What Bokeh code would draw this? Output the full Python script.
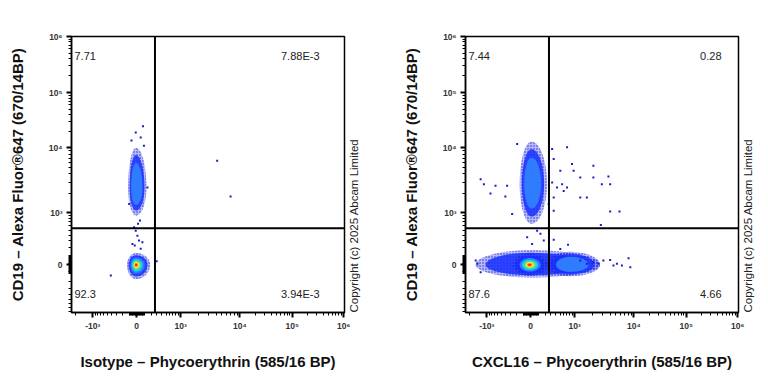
import numpy as np
from bokeh.plotting import figure
from bokeh.models import Range1d, FixedTicker, Label, Span, LinearAxis
from bokeh.layouts import row
from bokeh.embed import file_html
from bokeh.resources import INLINE

# ---------------- data ----------------
x_titles = ["Isotype – Phycoerythrin (585/16 BP)", "CXCL16 – Phycoerythrin (585/16 BP)"]
y_title = "CD19 – Alexa Fluor®647 (670/14BP)"
copyright_text = "Copyright (c) 2025 Abcam Limited"

gate_x = 265.0
gate_y = 540.0

# quadrant percentages: upper-left, upper-right, lower-left, lower-right
quad_p1 = ["7.71", "7.88E-3", "92.3", "3.94E-3"]
quad_p2 = ["7.44", "0.28", "87.6", "4.66"]

tick_values = [-1e3, 0.0, 1e3, 1e4, 1e5, 1e6]
tick_labels = ["-10³", "0", "10³", "10⁴", "10⁵", "10⁶"]

# populations (values in fluorescence units): centre, extent, peak density level
p1_cx = [-10, -10]
p1_cy = [0, 2480]
p1_xlo = [-130, -115]
p1_xhi = [185, 130]
p1_ylo = [-165, 900]
p1_yhi = [135, 10000]
p1_peak = [7, 2]

p2_cx = [0, 800, -15, 10]
p2_cy = [0, 0, 0, 2820]
p2_xlo = [-1550, 240, -248, -150]
p2_xhi = [2700, 2700, 238, 230]
p2_ylo = [-145, -130, -125, 650]
p2_yhi = [170, 150, 125, 13000]
p2_peak = [1, 2, 7, 2]

# sparse single events
p1_ev_x = [4160, 6970, -417, 296, -13, 9, 30, -26, 52, -56, 17, 43, -35, 75,
           83, -13, 52, 96, -69, 145, -101]
p1_ev_y = [6380, 1800, -121, 40, 488, 390, 307, 232, 188, 256, 648, 740, 564, 280,
           24600, 19100, 15500, 11000, 13600, 2480, 1375]

p2_ev_x = [-1277, -1123, -666, -843, -404, -367, -271, -188, 323, 354, 702, 504, 553,
           885, 954, 1250, 2090, 2090, 2900, 3740, 4000, 1250, 1620, 4000, 5740, 2790,
           354, 735, 504, 3080, 4000, 5190, 8130, 8700, 6300, 4550, -1450, -1277, -1550,
           323, 426, 597, 354, 702, 260, 354, 131, 180, 85, 18, -47, 1250, 1620, 2090, 2540]
p2_ev_y = [3335, 2794, 2630, 2000, 1800, 2630, 960, 11800, 9660, 6760, 10300, 4470, 2790,
           5680, 4470, 3530, 5350, 3530, 2790, 3650, 2790, 1740, 1740, 1050, 1050, 621,
           318, 242, 187, 48, 55, 11, 74, -27, -8, -8, 11, -83, 48,
           2950, 2480, 2200, 1740, 2480, 1375, 1085, 423, 307, 488, 256, 360, 48, 11, 29, 11]

# ---------------- biexponential-like display scale ----------------
LN10 = np.log(10.0)
W = 300.0
ANCH_V = [-1e4, -1e3, 0.0, 1e3, 1e4, 1e5, 1e6]
X_ANCH_D = [-103.3, -44.0, 0.0, 44.0, 103.3, 155.7, 207.3]
Y_ANCH_D = [-117.0, -52.0, 0.0, 52.0, 117.0, 172.3, 228.5]


def _a(v):
    return np.arcsinh(np.asarray(v, float) / W) / LN10


def tx(v):
    return np.interp(_a(v), _a(ANCH_V), X_ANCH_D)


def ty(v):
    return np.interp(_a(v), _a(ANCH_V), Y_ANCH_D)


XR = (-65.3, 208.0)
YR = (-47.7, 228.5)

minor_vals = []
for k in (3, 4, 5):
    for m in range(2, 10):
        minor_vals += [m * 10 ** k, -m * 10 ** k]
for m in range(1, 10):
    minor_vals += [m * 100, -m * 100, m * 10, -m * 10]
minor_vals = np.array(minor_vals, float)

LEVEL_COLORS = ["#2a36ff", "#1630ff", "#2f7cff", "#19d0f2", "#4fe27a", "#f2f02a", "#ff9a1a", "#ff1414"]
LEVEL_SCALE = [1.0, 0.82, 0.62, 0.47, 0.36, 0.26, 0.17, 0.09]
LEVEL_ALPHA = [0.35, 0.85, 1, 1, 1, 1, 1, 1]

FONT = "Liberation Sans"


def make_panel(xtitle, quads, quad_right_off, cx, cy, xlo, xhi, ylo, yhi, peak, evx, evy,
               width, left, right):
    p = figure(width=width, height=374, x_range=Range1d(*XR), y_range=Range1d(*YR),
               output_backend="svg", toolbar_location=None,
               min_border_left=left, min_border_right=right,
               min_border_top=36, min_border_bottom=62)
    p.xgrid.visible = False
    p.ygrid.visible = False
    p.outline_line_color = "black"
    p.outline_line_width = 1.5
    p.outline_line_alpha = 1.0
    p.background_fill_color = "white"

    # axes
    xt = tx(tick_values)
    yt = ty(tick_values)
    xin = [float(round(v, 3)) for v in xt if XR[0] - 0.5 <= v <= XR[1] + 0.5]
    yin = [float(round(v, 3)) for v in yt if YR[0] - 0.5 <= v <= YR[1] + 0.5]
    xm = [float(v) for v in tx(minor_vals) if XR[0] <= v <= XR[1]]
    ym = [float(v) for v in ty(minor_vals) if YR[0] <= v <= YR[1]]
    p.xaxis.ticker = FixedTicker(ticks=xin, minor_ticks=xm)
    p.yaxis.ticker = FixedTicker(ticks=yin, minor_ticks=ym)
    p.xaxis.major_label_overrides = {float(round(v, 3)): l for v, l in zip(xt, tick_labels)}
    p.yaxis.major_label_overrides = {float(round(v, 3)): l for v, l in zip(yt, tick_labels)}
    for ax in (p.xaxis[0], p.yaxis[0]):
        ax.axis_line_width = 1.5
        ax.major_tick_line_width = 2
        ax.major_tick_out = 5
        ax.major_tick_in = 0
        ax.minor_tick_out = 3
        ax.minor_tick_in = 0
        ax.minor_tick_line_width = 1
        ax.major_label_text_font = FONT
        ax.major_label_text_font_size = "8.5px"
        ax.major_label_text_font_style = "bold"
        ax.major_label_text_color = "#333333"
        ax.axis_label_text_font = FONT
        ax.axis_label_text_font_style = "bold"
        ax.axis_label_text_font_size = "15px"
        ax.axis_label_text_color = "#111111"
    p.xaxis.major_label_standoff = 3
    p.yaxis.major_label_standoff = 4
    p.xaxis.axis_label = xtitle
    p.yaxis.axis_label = y_title
    p.xaxis.axis_label_standoff = 19
    p.yaxis.axis_label_standoff = 20

    # copyright as a label-only axis on the right, reading bottom to top
    cax = LinearAxis(ticker=FixedTicker(ticks=[]), axis_line_color=None,
                     major_tick_line_color=None, minor_tick_line_color=None,
                     major_label_text_font_size="0px",
                     axis_label=copyright_text,
                     axis_label_text_font=FONT, axis_label_text_font_size="11.5px",
                     axis_label_text_font_style="normal",
                     axis_label_text_color="#222222", axis_label_standoff=9,
                     axis_label_orientation=np.pi / 2, axis_label_align="start")
    p.add_layout(cax, "right")

    # density populations drawn as nested contour levels
    t = np.linspace(0, 2 * np.pi, 90)
    for i in range(len(cx)):
        dcx, dcy = float(tx(cx[i])), float(ty(cy[i]))
        rxp, rxn = float(tx(xhi[i])) - dcx, dcx - float(tx(xlo[i]))
        ryp, ryn = float(ty(yhi[i])) - dcy, dcy - float(ty(ylo[i]))
        c, s = np.cos(t), np.sin(t)
        ex = np.where(c >= 0, rxp, rxn) * c
        ey = np.where(s >= 0, ryp, ryn) * s
        for lv in range(peak[i] + 1):
            sc = LEVEL_SCALE[lv]
            if lv == 0:
                p.patch(dcx + sc * ex, dcy + sc * ey, fill_color=LEVEL_COLORS[0],
                        fill_alpha=LEVEL_ALPHA[0], line_color=None,
                        hatch_pattern="dot", hatch_color="#0a0a9a", hatch_scale=3,
                        hatch_weight=1.0, hatch_alpha=0.8)
            else:
                p.patch(dcx + sc * ex, dcy + sc * ey, fill_color=LEVEL_COLORS[lv],
                        fill_alpha=LEVEL_ALPHA[lv], line_color=None)

    # single events
    p.scatter(tx(evx), ty(evy), marker="square", size=2, color="#1a1ad0", line_color=None)

    # quadrant gates
    p.add_layout(Span(location=float(tx(gate_x)), dimension="height", line_color="black", line_width=2))
    p.add_layout(Span(location=float(ty(gate_y)), dimension="width", line_color="black", line_width=2))

    # quadrant percentages
    qstyle = dict(text_font=FONT, text_font_size="11px", text_color="#222222", text_baseline="middle")
    p.add_layout(Label(x=XR[0], y=YR[1], x_offset=3, y_offset=-19, text=quads[0], text_align="left", **qstyle))
    p.add_layout(Label(x=XR[1], y=YR[1], x_offset=-quad_right_off, y_offset=-19, text=quads[1], text_align="right", **qstyle))
    p.add_layout(Label(x=XR[0], y=YR[0], x_offset=3, y_offset=19, text=quads[2], text_align="left", **qstyle))
    p.add_layout(Label(x=XR[1], y=YR[0], x_offset=-quad_right_off, y_offset=19, text=quads[3], text_align="right", **qstyle))
    return p


p1 = make_panel(x_titles[0], quad_p1, 25, p1_cx, p1_cy, p1_xlo, p1_xhi, p1_ylo, p1_yhi, p1_peak,
                p1_ev_x, p1_ev_y, width=394, left=71, right=50)
p2 = make_panel(x_titles[1], quad_p2, 17, p2_cx, p2_cy, p2_xlo, p2_xhi, p2_ylo, p2_yhi, p2_peak,
                p2_ev_x, p2_ev_y, width=368, left=71, right=24)

layout = row(p1, p2)
open("out.html", "w").write(file_html(layout, INLINE))
